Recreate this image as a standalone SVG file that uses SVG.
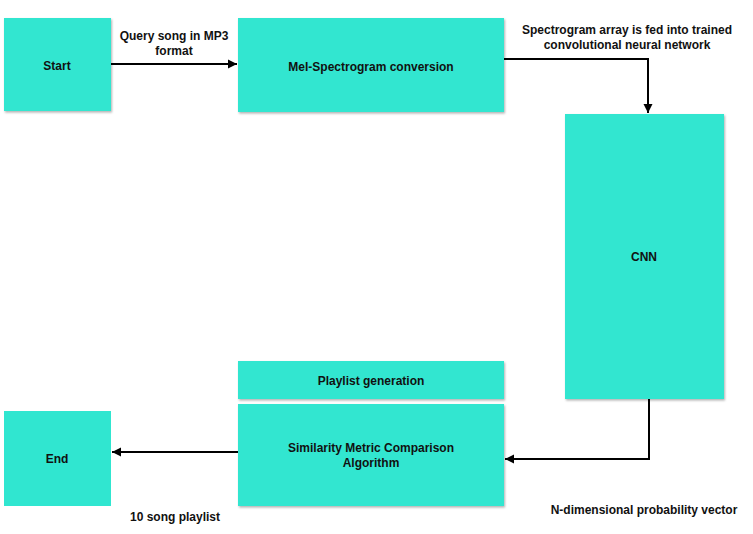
<svg xmlns="http://www.w3.org/2000/svg" width="753" height="534" viewBox="0 0 753 534">
<style>
.box{fill:#30E6D0;}
.sh{filter:url(#ds);}
.t{font-family:"Liberation Sans",Arial,sans-serif;font-size:12px;font-weight:bold;fill:#111;text-anchor:middle;}
.c{fill:none;stroke:#000;stroke-width:2;}
</style>
<defs>
<filter id="ds" x="-10%" y="-10%" width="130%" height="130%">
<feDropShadow dx="1" dy="1.5" stdDeviation="1" flood-color="#000" flood-opacity="0.3"/>
</filter>
<marker id="ah" markerWidth="10" markerHeight="10" refX="9" refY="5" orient="auto" markerUnits="userSpaceOnUse">
<path d="M0,0.5 L9,5 L0,9.5 Z" fill="#000"/>
</marker>
</defs>
<g id="connectors">
<path class="c" d="M111,64 H237" marker-end="url(#ah)"/>
<path class="c" d="M504,59 H648 V113" marker-end="url(#ah)"/>
<path class="c" d="M649,399 V459 H505" marker-end="url(#ah)"/>
<path class="c" d="M238,452 H112" marker-end="url(#ah)"/>
<text class="t" x="174" y="40">Query song in MP3</text>
<text class="t" x="174" y="55">format</text>
<text class="t" x="627" y="34">Spectrogram array is fed into trained</text>
<text class="t" x="627" y="49">convolutional neural network</text>
<text class="t" x="175" y="521">10 song playlist</text>
<text class="t" x="644" y="514">N-dimensional probability vector</text>
</g>
<g id="start"><rect class="box sh" x="4" y="18" width="107" height="93"/><text class="t" x="57" y="70">Start</text></g>
<g id="mel"><rect class="box sh" x="238" y="18" width="266" height="94"/><text class="t" x="371" y="71">Mel-Spectrogram conversion</text></g>
<g id="cnn"><rect class="box sh" x="565" y="114" width="159" height="285"/><text class="t" x="644" y="261">CNN</text></g>
<g id="playlist"><rect class="box sh" x="238" y="361" width="266" height="38"/><text class="t" x="371" y="385">Playlist generation</text></g>
<g id="similarity"><rect class="box sh" x="238" y="404" width="266" height="102"/><text class="t" x="371" y="452">Similarity Metric Comparison</text><text class="t" x="371" y="467">Algorithm</text></g>
<g id="end"><rect class="box" x="4" y="411" width="107" height="95"/><text class="t" x="57" y="463">End</text></g>
</svg>
